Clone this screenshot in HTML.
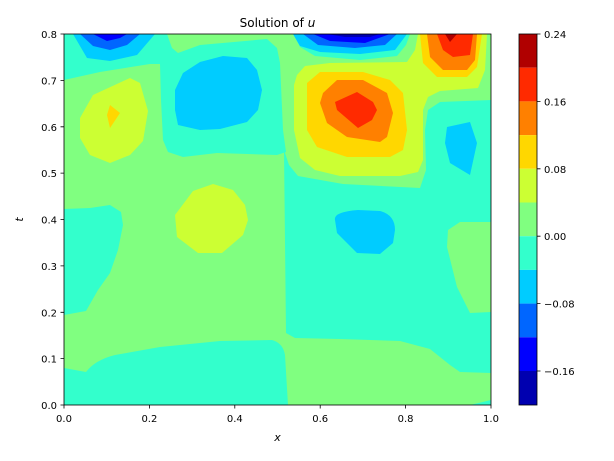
<!DOCTYPE html>
<html><head><meta charset="utf-8"><style>body{margin:0;background:#fff}svg{display:block}text{font-family:"DejaVu Sans","Liberation Sans",sans-serif;fill:#000}</style></head><body>
<svg width="614" height="461" viewBox="0 0 614 461" xmlns="http://www.w3.org/2000/svg">
<defs><clipPath id="c"><rect x="64" y="34" width="427" height="371"/></clipPath></defs>
<g clip-path="url(#c)" stroke-linejoin="round">
<rect x="64" y="34" width="427" height="371" fill="#80ff80"/>
<g fill="#33ffcc">
<path d="M64,34 L167,34 L172,48 L178,53 L200,45 L267,39 L277,48 L280,63 L283,130 L286,152 L277,155 L217,153 L183,157 L168,152 L163,140 L161,100 L160,64 L150,64 L100,72 L64,80 Z"/>
<path d="M284,150 L289,165 L298,176 L343,184 L420,188 L426,170 L425,130 L428,110 L440,102 L491,100 L491,373 L460,372 L450,365 L430,349 L400,341 L340,339 L295,338 L286,333 Z"/>
<path d="M64,405 L64,368 L86,372 Q95,360 115,355 L160,347 L220,341 L272,340 Q283,343 285,355 L288,405 Z"/>
<path d="M64,209 L90,208 L110,205 L121,212 L123,225 L118,250 L110,273 L98,290 L86,311 L64,315 Z"/>
<path d="M293,34 L300,47 L315,56 L360,60 L397,56 L406,45 L410,34 Z"/>
<path d="M470,405 L491,400 L491,405 Z"/>
</g>
<path fill="#80ff80" d="M448,230 L460,222 L491,222 L491,312 L470,313 L457,287 L447,247 Z"/>
<g fill="#00ccff">
<path d="M73,34 L87,58 L110,61 L137,55 L155,34 Z"/>
<path d="M293,34 L300,46 L320,52 L360,54 L395,50 L407,34 Z"/>
<path d="M175,90 L183,73 L200,62 L223,56 L247,58 L257,70 L262,90 L258,110 L247,122 L220,129 L200,130 L178,125 L175,110 Z"/>
<path d="M447,127 L470,122 L477,143 L470,175 L450,163 L445,143 Z"/>
<path d="M335,220 Q333,212 358,210 L380,211 Q395,215 395,230 L393,243 L380,254 L357,253 L337,233 Z"/>
</g>
<g fill="#0066ff">
<path d="M80,34 L93,46 L110,50 L127,45 L140,34 Z"/>
<path d="M303,34 L318,45 L355,48 L385,45 L397,34 Z"/>
</g>
<g fill="#0000ff">
<path d="M93,34 L107,41 L120,38 L127,34 Z"/>
<path d="M313,34 L330,41 L365,43 L390,34 Z"/>
</g>
<path fill="#0000b0" d="M327,34 L345,37 L370,37 L380,34 Z"/>
<g fill="#ccff33">
<path d="M297,75 L305,66 L330,63 L407,62 L415,50 L418,34 L487,34 L485,70 L478,88 L440,91 L428,97 L423,110 L423,160 L418,172 L400,176 L340,176 L315,170 L300,158 L294,130 L294,85 Z"/>
<path d="M80,118 L93,95 L130,78 L140,83 L148,111 L143,141 L130,155 L110,163 L90,155 L80,138 Z"/>
<path d="M175,215 L193,191 L213,184 L233,190 L245,205 L248,220 L243,235 L222,253 L198,253 L177,237 Z"/>
</g>
<g fill="#ffd700">
<path d="M307,83 L320,72 L363,72 L390,80 L403,93 L407,130 L403,150 L390,157 L347,157 L317,147 L307,130 L307,97 Z"/>
<path d="M420,34 L423,63 L437,77 L467,77 L477,67 L482,34 Z"/>
<path d="M107,115 L110,105 L120,113 L110,128 Z"/>
</g>
<g fill="#ff8000">
<path d="M323,93 L337,80 L363,80 L387,93 L393,113 L387,137 L380,142 L347,137 L327,123 L320,103 Z"/>
<path d="M427,34 L430,57 L443,70 L467,70 L475,60 L477,34 Z"/>
</g>
<g fill="#ff2a00">
<path d="M335,102 L357,92 L373,102 L377,110 L372,120 L358,128 L337,110 Z"/>
<path d="M437,34 L443,50 L453,57 L470,55 L473,34 Z"/>
</g>
<path fill="#b00000" d="M445,34 L450,42 L457,34 Z"/>
</g>
<rect x="64" y="34" width="427" height="371" fill="none" stroke="#000" stroke-width="0.8"/>
<g stroke="#000" stroke-width="0.8">
<path d="M64,405v3.5M149.4,405v3.5M234.8,405v3.5M320.2,405v3.5M405.6,405v3.5M491,405v3.5"/>
<path d="M64,405h-3.5M64,358.6h-3.5M64,312.3h-3.5M64,265.9h-3.5M64,219.5h-3.5M64,173.1h-3.5M64,126.8h-3.5M64,80.4h-3.5M64,34h-3.5"/>
</g>
<g font-size="10" text-anchor="middle">
<text x="64" y="422">0.0</text><text x="149.4" y="422">0.2</text><text x="234.8" y="422">0.4</text><text x="320.2" y="422">0.6</text><text x="405.6" y="422">0.8</text><text x="491" y="422">1.0</text>
</g>
<g font-size="10" text-anchor="end">
<text x="57" y="409">0.0</text><text x="57" y="362.6">0.1</text><text x="57" y="316.3">0.2</text><text x="57" y="269.9">0.3</text><text x="57" y="223.5">0.4</text><text x="57" y="177.1">0.5</text><text x="57" y="130.8">0.6</text><text x="57" y="84.4">0.7</text><text x="57" y="38">0.8</text>
</g>
<text x="277.5" y="441" font-size="11" font-style="italic" text-anchor="middle">x</text>
<text x="23" y="219.5" font-size="11" font-style="italic" text-anchor="middle" transform="rotate(-90 23 219.5)">t</text>
<text x="277.5" y="27" font-size="12" text-anchor="middle">Solution of <tspan font-style="italic">u</tspan></text>
<g>
<rect x="519" y="34" width="18" height="33.7" fill="#b00000"/>
<rect x="519" y="67.7" width="18" height="33.7" fill="#ff2a00"/>
<rect x="519" y="101.4" width="18" height="33.7" fill="#ff8000"/>
<rect x="519" y="135.1" width="18" height="33.7" fill="#ffd700"/>
<rect x="519" y="168.8" width="18" height="33.7" fill="#ccff33"/>
<rect x="519" y="202.5" width="18" height="33.7" fill="#80ff80"/>
<rect x="519" y="236.2" width="18" height="33.7" fill="#33ffcc"/>
<rect x="519" y="269.9" width="18" height="33.7" fill="#00ccff"/>
<rect x="519" y="303.6" width="18" height="33.7" fill="#0066ff"/>
<rect x="519" y="337.3" width="18" height="33.7" fill="#0000ff"/>
<rect x="519" y="371" width="18" height="34" fill="#0000b0"/>
<rect x="519" y="34" width="18" height="371" fill="none" stroke="#000" stroke-width="0.8"/>
<path stroke="#000" stroke-width="0.8" d="M537,34h3.5M537,101.4h3.5M537,168.8h3.5M537,236.2h3.5M537,303.6h3.5M537,371h3.5"/>
</g>
<g font-size="10">
<text x="544" y="38">0.24</text><text x="544" y="105.4">0.16</text><text x="544" y="172.8">0.08</text><text x="544" y="240.2">0.00</text><text x="544" y="307.6">−0.08</text><text x="544" y="375">−0.16</text>
</g>
</svg>
</body></html>
